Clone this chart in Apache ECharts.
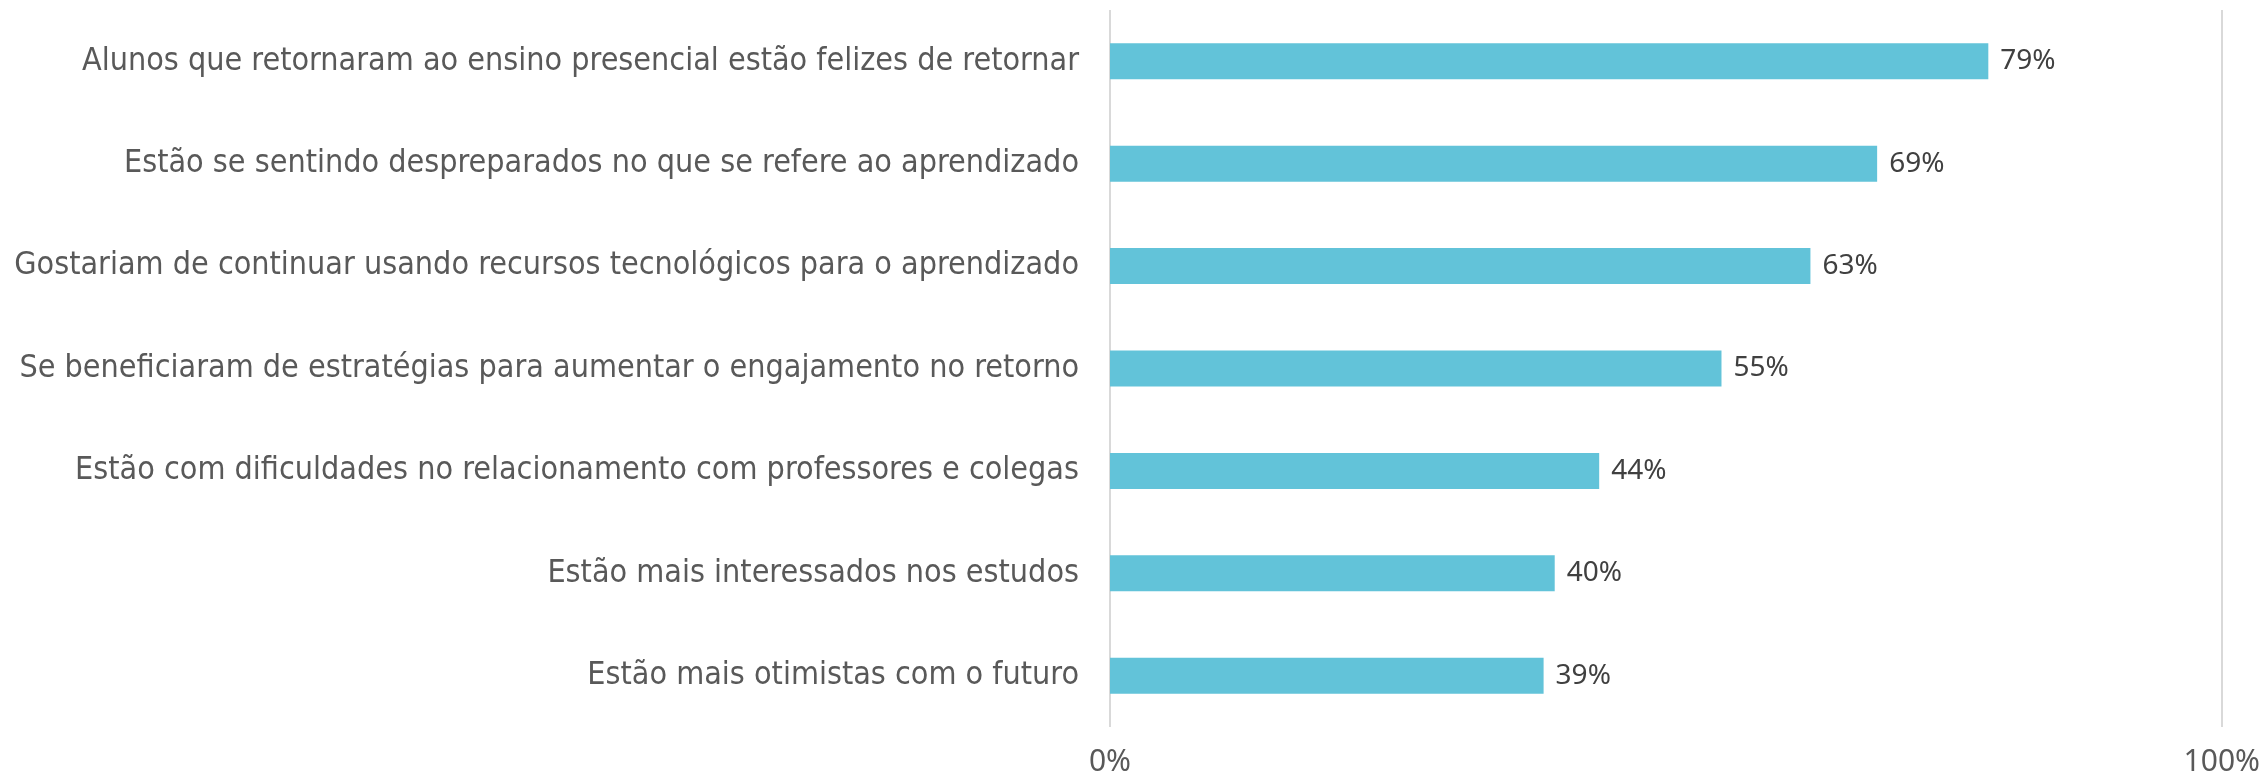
<!DOCTYPE html>
<html>
<head>
<meta charset="utf-8">
<script src="https://cdn.jsdelivr.net/npm/echarts@6/dist/echarts.min.js"></script>
<style>
  html, body { margin: 0; padding: 0; background: #fff; }
  #chart { width: 2263px; height: 778px; }
</style>
</head>
<body>
<div id="chart"></div>
<script>
const categories = [
  'Alunos que retornaram ao ensino presencial estão felizes de retornar',
  'Estão se sentindo despreparados no que se refere ao aprendizado',
  'Gostariam de continuar usando recursos tecnológicos para o aprendizado',
  'Se beneficiaram de estratégias para aumentar o engajamento no retorno',
  'Estão com dificuldades no relacionamento com professores e colegas',
  'Estão mais interessados nos estudos',
  'Estão mais otimistas com o futuro'
]
const values = [79, 69, 63, 55, 44, 40, 39]
const axisTicks = [0, 100]

const myChart = echarts.init(document.getElementById('chart'))
myChart.setOption({
  animation: false,
  grid: { left: 1110, right: 40, top: 10, bottom: 51 },
  xAxis: {
    type: 'value',
    min: axisTicks[0],
    max: axisTicks[1],
    interval: 100,
    axisLine: { show: false },
    axisTick: { show: false },
    splitLine: { show: true, lineStyle: { color: '#D9D9D9', width: 2 } },
    axisLabel: {
      formatter: v => v + '%',
      color: '#595959',
      fontFamily: 'Noto Sans',
      fontSize: 30,
      margin: 20
    }
  },
  yAxis: {
    type: 'category',
    inverse: true,
    data: categories,
    axisLine: { show: false },
    axisTick: { show: false },
    axisLabel: {
      color: '#595959',
      fontFamily: '"DejaVu Sans Condensed", Roboto, sans-serif',
      fontSize: 32,
      margin: 31
    }
  },
  series: [
    {
      type: 'bar',
      data: values,
      barWidth: 36,
      itemStyle: { color: '#62C3D9' },
      label: {
        show: true,
        position: 'right',
        distance: 12,
        formatter: p => p.value + '%',
        color: '#404040',
        fontFamily: 'Noto Sans',
        fontSize: 28
      }
    }
  ]
})
</script>
</body>
</html>
